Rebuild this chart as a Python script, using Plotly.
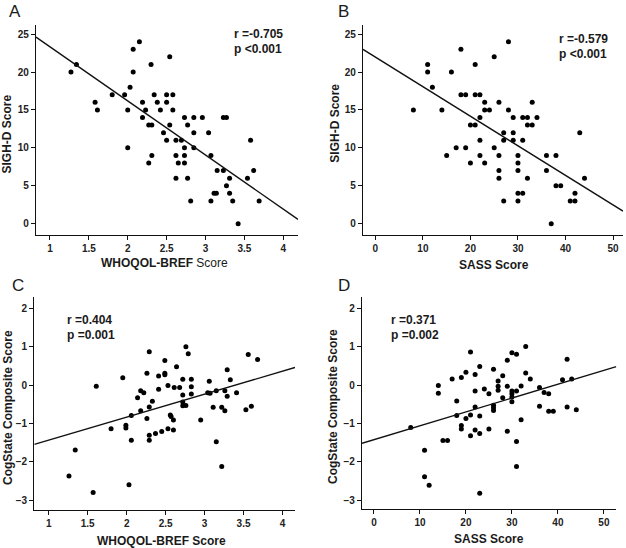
import numpy as np
import plotly.graph_objects as go

W, H = 626, 548
FONT = "Arial, Liberation Sans, sans-serif"

# ---------------- data ----------------
# Panel A: WHOQOL-BREF vs SIGH-D
whoqol_a = [1.27, 1.34, 1.58, 1.61, 1.80, 1.96, 2.00, 2.00, 2.03, 2.07,
            2.07, 2.15, 2.19, 2.19, 2.23, 2.30, 2.27, 2.31, 2.27, 2.31,
            2.34, 2.38, 2.42, 2.46, 2.50, 2.50, 2.50, 2.54, 2.54, 2.58,
            2.58, 2.62, 2.62, 2.62, 2.65, 2.69, 2.73, 2.73, 2.73, 2.73,
            2.77, 2.77, 2.81, 2.85, 2.85, 2.85, 2.96, 3.04, 3.07, 3.07,
            3.11, 3.14, 3.15, 3.23, 3.27, 3.23, 3.27, 3.31, 3.31, 3.35,
            3.42, 3.54, 3.58, 3.62, 3.69]
sighd_a = [20, 21, 16, 15, 17, 17, 15, 10, 18, 20,
           23, 24, 16, 14, 15, 21, 13, 13, 8, 9,
           17, 16, 15, 12, 17, 16, 11, 22, 13, 17,
           15, 11, 9, 6, 8, 11, 14, 10, 9, 8,
           13, 6, 3, 14, 12, 10, 14, 12, 9, 3,
           4, 4, 7, 14, 14, 7, 5, 6, 4, 3,
           0, 6, 11, 7, 3]

# Panel B: SASS vs SIGH-D
sass_b = [8, 11, 11, 12, 14, 15, 16, 17, 18, 18,
          19, 19, 20, 20, 21, 21, 21, 22, 22, 22,
          22, 23, 23, 24, 23, 25, 25, 26, 26, 26,
          26, 27, 27, 27, 28, 28, 29, 29, 29, 30,
          30, 30, 30, 31, 30, 31, 32, 34, 32, 33,
          33, 31, 32, 36, 38, 36, 38, 39, 37, 41,
          42, 42, 43, 44]
sighd_b = [15, 21, 20, 18, 15, 9, 20, 10, 23, 17,
           17, 10, 8, 13, 13, 21, 17, 17, 14, 11,
           9, 16, 15, 15, 8, 22, 10, 16, 9, 7,
           6, 12, 11, 3, 24, 15, 12, 11, 14, 9,
           8, 7, 4, 4, 3, 14, 14, 14, 13, 13,
           16, 11, 6, 9, 9, 7, 5, 5, 0, 3,
           3, 4, 12, 6]

# Panel C: WHOQOL-BREF vs CogState composite
whoqol_c = [1.26, 1.34, 1.57, 1.61, 1.80, 1.95, 1.99, 1.99, 2.03, 2.06,
            2.06, 2.14, 2.18, 2.22, 2.18, 2.26, 2.26, 2.29, 2.29, 2.29,
            2.29, 2.33, 2.37, 2.41, 2.41, 2.45, 2.49, 2.49, 2.49, 2.53,
            2.53, 2.56, 2.57, 2.60, 2.60, 2.61, 2.64, 2.68, 2.72, 2.72,
            2.72, 2.76, 2.72, 2.76, 2.79, 2.83, 2.83, 2.83, 2.95, 3.06,
            3.04, 3.07, 3.11, 3.15, 3.15, 3.22, 3.22, 3.26, 3.26, 3.29,
            3.29, 3.33, 3.41, 3.53, 3.56, 3.60, 3.68]
cog_c = [-2.37, -1.69, -2.80, -0.03, -1.14, 0.19, -1.05, -1.12, -2.60, -0.79,
         -1.44, -0.33, -0.15, -0.20, -0.67, 0.31, -0.87, 0.87, -0.57, -1.31,
         -1.44, -0.42, -1.26, 0.24, -0.11, -1.21, 0.64, 0.31, 0.27, -0.01,
         -1.14, -0.78, -0.82, -0.91, -1.17, -0.06, 0.48, -0.06, 0.15, -0.26,
         -0.44, -0.53, -0.54, 1.00, 0.82, 0.15, -0.04, -0.23, -0.91, 0.10,
         -0.20, -0.21, -0.58, -0.15, -1.48, -2.12, -0.58, -0.67, -0.15, 0.40,
         -0.29, 0.14, -0.20, -0.64, 0.80, -0.55, 0.67]

# Panel D: SASS vs CogState composite
sass_d = [8, 11, 11, 12, 14, 14, 15, 16, 17, 18,
          18, 19, 19, 19, 20, 20, 21, 21, 21, 22,
          22, 22, 22, 23, 23, 23, 23, 24, 25, 25,
          26, 26, 26, 26, 27, 27, 27, 28, 28, 29,
          29, 29, 30, 31, 30, 30, 30, 30, 31, 31,
          31, 32, 32, 33, 33, 34, 36, 36, 37, 38,
          38, 39, 41, 42, 42, 43, 44]
cog_d = [-1.10, -1.70, -2.39, -2.61, -0.01, -0.21, -1.44, -1.44, 0.16, -0.41,
         -0.79, 0.20, -1.05, -1.14, 0.34, -0.87, 0.87, -0.78, -1.32, 0.28,
         -0.15, -0.57, -1.17, 0.49, -0.80, -1.26, -2.82, -0.10, -0.22, -1.14,
         0.42, -0.52, -0.59, -0.66, 0.11, -0.03, -0.13, 0.25, -0.33, 0.65,
         -0.03, -1.20, 0.85, 0.81, -0.15, -0.22, -0.31, -0.43, -0.15, -2.12,
         -1.47, -0.02, -0.90, 1.01, 0.32, 0.16, -0.06, -0.55, -0.19, -0.22,
         -0.68, -0.68, 0.14, 0.68, -0.57, 0.16, -0.64]

# regression lines (slope, intercept) as drawn
fit_slopes = [-7.13, -0.390, 0.599, 0.0362]
fit_intercepts = [30.45, 21.97, -2.034, -1.421]

stat_r = ["r =-0.705", "r =-0.579", "r =0.404", "r =0.371"]
stat_p = ["p <0.001", "p <0.001", "p =0.001", "p =0.002"]
panel_letters = ["A", "B", "C", "D"]

x_ticks_whoqol = [1, 1.5, 2, 2.5, 3, 3.5, 4]
x_ticks_sass = [0, 10, 20, 30, 40, 50]
y_ticks_sighd = [0, 5, 10, 15, 20, 25]
y_ticks_cog = [-3, -2, -1, 0, 1, 2]

# ---------------- layout geometry ----------------
def px(x):
    return x / W

def py(y):
    return 1 - y / H

panels = [
    dict(x=whoqol_a, y=sighd_a, dom_x=[px(36), px(298)], dom_y=[py(235), py(25)],
         xr=[0.82, 4.19], yr=[-1.49, 26.2], xt=x_ticks_whoqol, yt=y_ticks_sighd),
    dict(x=sass_b, y=sighd_b, dom_x=[px(363), px(623)], dom_y=[py(235), py(25)],
         xr=[-2.6, 52.1], yr=[-1.49, 26.2], xt=x_ticks_sass, yt=y_ticks_sighd),
    dict(x=whoqol_c, y=cog_c, dom_x=[px(34.3), px(295)], dom_y=[py(509.7), py(297.3)],
         xr=[0.815, 4.16], yr=[-3.25, 2.29], xt=x_ticks_whoqol, yt=y_ticks_cog),
    dict(x=sass_d, y=cog_d, dom_x=[px(362), px(616.3)], dom_y=[py(509), py(296.7)],
         xr=[-2.6, 52.7], yr=[-3.23, 2.31], xt=x_ticks_sass, yt=y_ticks_cog),
]

fig = go.Figure()
layout = {}
for i, p in enumerate(panels):
    n = "" if i == 0 else str(i + 1)
    xa, ya = "x" + n, "y" + n
    fig.add_trace(go.Scatter(x=p["x"], y=p["y"], mode="markers", xaxis=xa, yaxis=ya,
                             marker=dict(color="black", size=5), showlegend=False,
                             hoverinfo="skip"))
    xs = np.array(p["xr"])
    ys = fit_slopes[i] * xs + fit_intercepts[i]
    fig.add_trace(go.Scatter(x=xs, y=ys, mode="lines", xaxis=xa, yaxis=ya,
                             line=dict(color="#111111", width=1.4), showlegend=False,
                             hoverinfo="skip", cliponaxis=True))
    axis_common = dict(showline=True, linecolor="#111111", linewidth=1.4,
                       ticks="outside", ticklen=4, tickwidth=1.3, tickcolor="#111111",
                       showgrid=False, zeroline=False, mirror=False,
                       tickfont=dict(family=FONT, size=10, color="#222222", weight="bold"))
    layout["xaxis" + n] = dict(domain=p["dom_x"], range=p["xr"], tickvals=p["xt"],
                               anchor=ya, **axis_common)
    layout["yaxis" + n] = dict(domain=p["dom_y"], range=p["yr"], tickvals=p["yt"],
                               anchor=xa, **axis_common)

fig.update_layout(**layout)

ann = []
def add_text(text, x, y, size=12, xanchor="center", angle=0, weight="bold"):
    ann.append(dict(text=text, x=px(x), y=py(y), xref="paper", yref="paper",
                    showarrow=False, xanchor=xanchor, yanchor="middle", textangle=angle,
                    font=dict(family=FONT, size=size, color="#1a1a1a", weight=weight)))

# panel letters
for letter, (lx, ly) in zip(panel_letters, [(14.5, 12), (343.5, 12), (17.5, 285.5), (343.5, 285.5)]):
    add_text(letter, lx, ly, size=17, weight="normal")

# statistics
for r, p, (sx, sy) in zip(stat_r, stat_p, [(232, 34), (557, 39), (65, 320), (389, 320)]):
    add_text(r, sx, sy, size=12, xanchor="left")
    add_text(p, sx, sy + 14.5, size=12, xanchor="left")

# axis titles
add_text("<b>WHOQOL-BREF</b> Score", 164, 263, size=12, weight="normal")
add_text("SASS Score", 494, 265, size=12)
add_text("WHOQOL-BREF Score", 161, 540.5, size=12)
add_text("SASS Score", 489, 539, size=12)
add_text("SIGH-D Score", 6.5, 134, size=12, angle=-90)
add_text("SIGH-D Score", 334.7, 123, size=12, angle=-90)
add_text("CogState Composite Score", 7.5, 407.5, size=12, angle=-90)
add_text("CogState Composite Score", 333, 407, size=12, angle=-90)

fig.update_layout(width=W, height=H, margin=dict(l=0, r=0, t=0, b=0),
                  paper_bgcolor="white", plot_bgcolor="white", annotations=ann)

fig.write_html("out.html")
